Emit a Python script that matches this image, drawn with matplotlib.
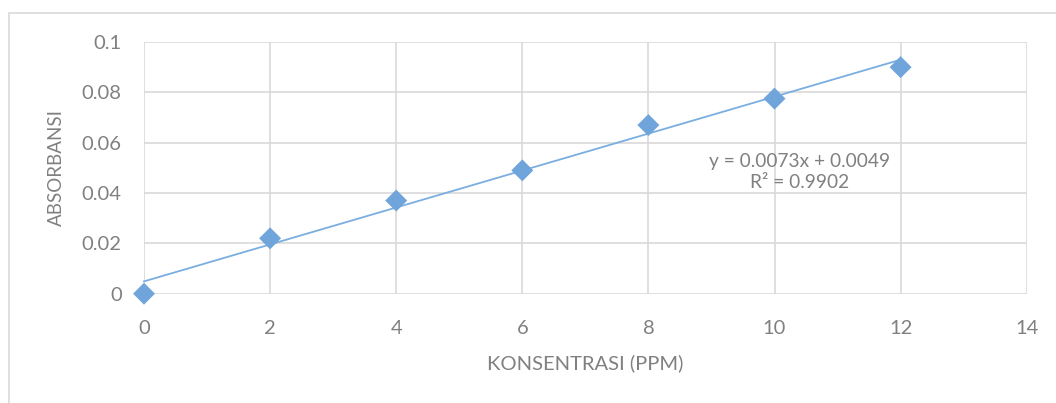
import matplotlib
matplotlib.use("Agg")
import matplotlib.pyplot as plt
from matplotlib.patches import Rectangle
import numpy as np

konsentrasi = [0, 2, 4, 6, 8, 10, 12]
absorbansi = [0.0, 0.022, 0.037, 0.049, 0.067, 0.0775, 0.090]
x_ticks = [0, 2, 4, 6, 8, 10, 12, 14]
y_ticks = [0, 0.02, 0.04, 0.06, 0.08, 0.1]
y_tick_labels = ["0", "0.02", "0.04", "0.06", "0.08", "0.1"]
x_label = "KONSENTRASI (PPM)"
y_label = "ABSORBANSI"
eq_text = "y = 0.0073x + 0.0049\nR² = 0.9902"

plt.rcParams['font.family'] = ['Lato', 'DejaVu Sans']
text_col = '#808080'
grid_col = '#d9d9d9'
pt_col = '#6fa5da'
line_col = '#7aaee0'

fig = plt.figure(figsize=(10.56, 4.03), dpi=100)
fig.patch.set_facecolor('white')
# chart border (partly off-image)
fig.add_artist(Rectangle((9/1056, -0.5), 2.0, 1.5 - 13/403, transform=fig.transFigure,
                         fill=False, edgecolor=grid_col, linewidth=1.2))

ax = fig.add_axes([144/1056, 1 - 293.7/403, (1026.7 - 144)/1056, (293.7 - 42)/403])
ax.set_facecolor('none')
ax.set_xlim(0, 14)
ax.set_ylim(0, 0.1)
ax.set_xticks(x_ticks)
ax.set_yticks(y_ticks)
ax.set_yticklabels(y_tick_labels)
ax.grid(True, color=grid_col, linewidth=1.2)
ax.set_axisbelow(True)
for s in ax.spines.values():
    s.set_visible(False)
ax.tick_params(length=0, labelsize=14.5, labelcolor=text_col)
ax.tick_params(axis='x', pad=19)
ax.tick_params(axis='y', pad=16)

# trendline from data
slope, intercept = np.polyfit(konsentrasi, absorbansi, 1)
xs = np.array([min(konsentrasi), max(konsentrasi)])
ax.plot(xs, slope * xs + intercept, color=line_col, linewidth=1.3, zorder=3, clip_on=False)
ax.scatter(konsentrasi, absorbansi, marker='D', s=125, color=pt_col, zorder=4, clip_on=False,
           edgecolors='none')

ax.text(10.4, 0.0483, eq_text, ha='center', va='center', fontsize=13.8, color=text_col,
        linespacing=1.25)

ax.set_xlabel(x_label, fontsize=14.5, color=text_col, labelpad=12)
ax.set_ylabel(y_label, fontsize=13.5, color=text_col, labelpad=12)

fig.savefig('out.png', dpi=100)
